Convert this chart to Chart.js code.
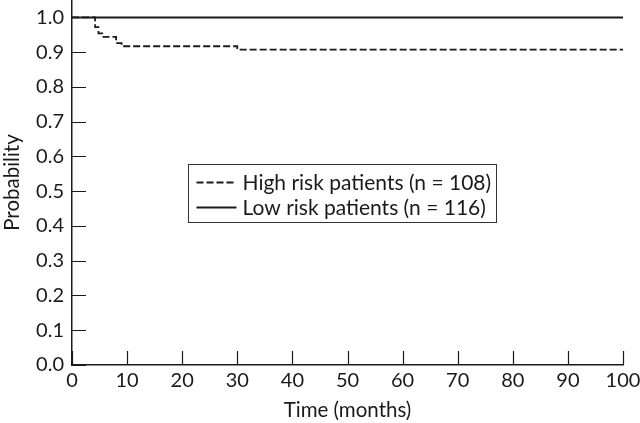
<!DOCTYPE html>
<html>
<head>
<meta charset="utf-8">
<script src="https://cdn.jsdelivr.net/npm/chart.js@4/dist/chart.umd.min.js"></script>
<style>
  html, body { margin: 0; padding: 0; background: #fff; }
  #wrap { width: 640px; height: 423px; }
</style>
</head>
<body>
<div id="wrap"><canvas id="chart"></canvas></div>
<script>
// Kaplan-Meier steps
const highRiskTimes = [0, 4.2, 4.8, 5.5, 8, 9, 30, 100];
const highRiskProb  = [1.0, 0.972, 0.954, 0.944, 0.926, 0.917, 0.907, 0.907];
const lowRiskTimes  = [0, 100];
const lowRiskProb   = [1.0, 1.0];

const seriesLabels = ['High risk patients (n = 108)', 'Low risk patients (n = 116)'];
const yTickValues = [0, 0.1, 0.2, 0.3, 0.4, 0.5, 0.6, 0.7, 0.8, 0.9, 1.0];
const xTitle = 'Time (months)';
const yTitle = 'Probability';

const FONT = 'Lato, "DejaVu Sans", sans-serif';
const INK = '#1a1a1a';

const toPoints = (xs, ys) => xs.map((x, i) => ({ x: x, y: ys[i] }));

// tick marks drawn inward, at the scale's own ticks
const inwardTicks = {
  id: 'inwardTicks',
  afterDraw(chart) {
    const ctx = chart.ctx;
    const area = chart.chartArea;
    const len = 14;
    ctx.save();
    ctx.strokeStyle = INK;
    ctx.lineWidth = 1.2;
    ctx.beginPath();
    chart.scales.x.ticks.forEach(t => {
      const px = Math.round(chart.scales.x.getPixelForValue(t.value)) + 0.5;
      ctx.moveTo(px, area.bottom);
      ctx.lineTo(px, area.bottom - len);
    });
    chart.scales.y.ticks.forEach(t => {
      const py = Math.round(chart.scales.y.getPixelForValue(t.value)) + 0.5;
      ctx.moveTo(area.left, py);
      ctx.lineTo(area.left + len, py);
    });
    ctx.stroke();
    ctx.restore();
  }
};

// boxed legend sitting inside the plot
const boxLegend = {
  id: 'boxLegend',
  afterDraw(chart) {
    const ctx = chart.ctx;
    const x = 188.5, y = 164.5, w = 308, h = 58;
    ctx.save();
    ctx.strokeStyle = '#333';
    ctx.lineWidth = 1;
    ctx.setLineDash([]);
    ctx.strokeRect(x, y, w, h);
    ctx.font = '21px ' + FONT;
    ctx.fillStyle = INK;
    ctx.textBaseline = 'middle';
    chart.data.datasets.forEach((ds, i) => {
      const ly = Math.round(y + 17 + i * 25) + 0.5;
      ctx.strokeStyle = ds.borderColor;
      ctx.lineWidth = ds.borderWidth;
      ctx.setLineDash(ds.borderDash || []);
      ctx.beginPath();
      ctx.moveTo(x + 8, ly);
      ctx.lineTo(x + 48, ly);
      ctx.stroke();
      ctx.setLineDash([]);
      ctx.fillText(ds.label, x + 54, ly + 1);
    });
    ctx.restore();
  }
};

new Chart(document.getElementById('chart'), {
  type: 'line',
  data: {
    datasets: [
      {
        label: seriesLabels[0],
        data: toPoints(highRiskTimes, highRiskProb),
        stepped: 'before',
        borderColor: INK,
        borderWidth: 1.8,
        borderDash: [7, 3],
        pointRadius: 0,
        fill: false
      },
      {
        label: seriesLabels[1],
        data: toPoints(lowRiskTimes, lowRiskProb),
        stepped: 'before',
        borderColor: INK,
        borderWidth: 2,
        pointRadius: 0,
        fill: false
      }
    ]
  },
  options: {
    responsive: true,
    maintainAspectRatio: false,
    animation: false,
    devicePixelRatio: 1,
    layout: { padding: { top: 0, right: 17, left: 0, bottom: 0 } },
    plugins: {
      legend: { display: false },
      tooltip: { enabled: false }
    },
    scales: {
      x: {
        type: 'linear',
        min: 0,
        max: 100,
        ticks: { stepSize: 10, padding: 4, color: INK, font: { family: FONT, size: 20 }, maxRotation: 0 },
        grid: { display: false, drawTicks: false },
        border: { display: true, color: INK, width: 1.5 },
        title: { display: true, text: xTitle, color: INK, font: { family: FONT, size: 20.5 }, padding: { top: 2, bottom: 0 } },
        afterFit: s => { s.height = 58; s.paddingLeft = 0; s.paddingRight = 0; }
      },
      y: {
        min: 0,
        max: 1.05,
        afterBuildTicks: s => { s.ticks = yTickValues.map(v => ({ value: v })); },
        ticks: { padding: 8, color: INK, font: { family: FONT, size: 20 }, callback: v => v.toFixed(1) },
        grid: { display: false, drawTicks: false },
        border: { display: true, color: INK, width: 1.5 },
        title: { display: true, text: yTitle, color: INK, font: { family: FONT, size: 20.5 }, padding: { top: 0, bottom: 2 } },
        afterFit: s => { s.width = 72; s.paddingTop = 0; s.paddingBottom = 0; }
      }
    }
  },
  plugins: [inwardTicks, boxLegend]
});
</script>
</body>
</html>
